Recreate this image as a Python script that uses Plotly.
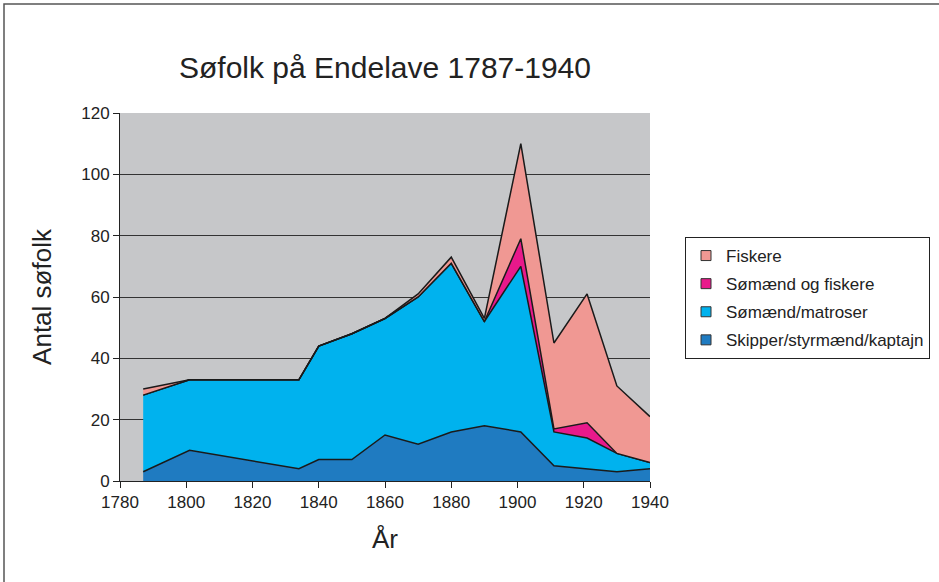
import plotly.graph_objects as go

years = [1787, 1801, 1834, 1840, 1850, 1860, 1870, 1880, 1890, 1901, 1911, 1921, 1930, 1940]
skipper = [3, 10, 4, 7, 7, 15, 12, 16, 18, 16, 5, 4, 3, 4]
matroser = [25, 23, 29, 37, 41, 38, 48, 55, 34, 54, 11, 10, 6, 2]
somaend_fiskere = [0, 0, 0, 0, 0, 0, 0, 0, 0, 9, 1, 5, 0, 0]
fiskere = [2, 0, 0, 0, 0, 0, 1, 2, 1, 31, 28, 42, 22, 15]

series = [
    ("Skipper/styrmænd/kaptajn", skipper, "#1F7BC1"),
    ("Sømænd/matroser", matroser, "#00B2EE"),
    ("Sømænd og fiskere", somaend_fiskere, "#E8198B"),
    ("Fiskere", fiskere, "#F09893"),
]

FONT = "Liberation Sans, Arial, sans-serif"
TXT = "#222222"

fig = go.Figure()
for i, (name, vals, col) in enumerate(series):
    fig.add_trace(go.Scatter(
        x=years, y=vals, name=name, mode="lines",
        stackgroup="one", fillcolor=col,
        line=dict(color="#1a1a1a", width=1.5),
        showlegend=False, hoverinfo="skip",
    ))
# legend entries as small squares
for i, (name, vals, col) in enumerate(series):
    fig.add_trace(go.Scatter(
        x=[None], y=[None], name=name, mode="markers",
        marker=dict(symbol="square", size=10, color=col,
                    line=dict(color="#333333", width=1)),
        legendrank=100 - i, legendgroup=f"g{i}", hoverinfo="skip",
    ))

W, H = 939, 582
L, R, T, B = 120, 289, 113, 101
pw, ph = W - L - R, H - T - B

def px_x(p):
    return (p - L) / pw

def px_y(p):
    return (H - B - p) / ph

fig.update_layout(
    width=W, height=H,
    margin=dict(l=L, r=R, t=T, b=B, autoexpand=False),
    paper_bgcolor="white",
    plot_bgcolor="#C6C7C9",
    font=dict(family=FONT, color=TXT),
    title=dict(text="Søfolk på Endelave 1787-1940", x=385 / W,
               xanchor="center", y=1 - 67 / H, yanchor="middle",
               font=dict(size=30, family=FONT, color=TXT)),
    showlegend=True,
    legend=dict(
        x=px_x(685), y=px_y(237), xanchor="left", yanchor="top",
        bordercolor=TXT, borderwidth=1, bgcolor="white",
        font=dict(size=17, family=FONT, color=TXT),
        traceorder="grouped", tracegroupgap=3,
        itemwidth=30,
    ),
    xaxis=dict(
        range=[1780, 1940], dtick=20, tick0=1780,
        showgrid=False, zeroline=False,
        showline=True, linecolor=TXT, linewidth=1,
        ticks="outside", ticklen=6, tickcolor=TXT,
        tickfont=dict(size=17, family=FONT, color=TXT),
        title=dict(text="År", font=dict(size=26, family=FONT, color=TXT), standoff=18),
    ),
    yaxis=dict(
        range=[0, 120], dtick=20,
        showgrid=True, gridcolor="#333333", gridwidth=1,
        zeroline=False,
        showline=True, linecolor=TXT, linewidth=1,
        ticks="outside", ticklen=6, tickcolor=TXT,
        tickfont=dict(size=17, family=FONT, color=TXT),
        title=dict(text="Antal søfolk", font=dict(size=26, family=FONT, color=TXT), standoff=22),
    ),
    shapes=[dict(
        type="rect", xref="paper", yref="paper",
        x0=px_x(4), x1=px_x(960), y0=px_y(600), y1=px_y(4),
        line=dict(color="#555555", width=1.5), fillcolor="rgba(0,0,0,0)",
        layer="below",
    )],
)

fig.write_html("out.html", config={"displayModeBar": False},
               post_script="document.body.style.margin='0';document.body.style.overflow='hidden';")
